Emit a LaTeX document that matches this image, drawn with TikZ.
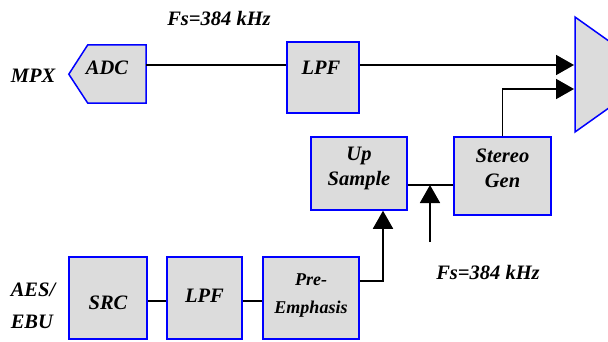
\documentclass[tikz,border=0pt]{standalone}
\usepackage{fontspec}
\setmainfont{Liberation Serif}
\usetikzlibrary{arrows.meta,positioning,calc}
\definecolor{edge}{HTML}{0000FF}
\definecolor{panel}{HTML}{DCDCDC}

\begin{document}
\begin{tikzpicture}[
  x=1pt, y=-1pt,
  font=\fontsize{20.5}{25}\selectfont\bfseries\itshape,
  >={Triangle[length=18pt,width=20pt]},
  block/.style={draw=edge, fill=panel, line width=1.5pt, inner sep=0pt},
  caption/.style={align=center, inner sep=0pt},
  link/.style={line width=1.8pt, draw=black},
  flow/.style={link, ->}
]
  \useasboundingbox (0,0) rectangle (608,342);

  \node[caption] (mpx) at (33,76) {MPX};
  \node[minimum width=58pt, minimum height=58pt, inner sep=0pt] (adc) at (117,74) {};
  \draw[block] (adc.north west) -- (adc.north east) -- (adc.south east) -- (adc.south west) -- ++(-19,-29) -- cycle;
  \node[caption] (adctext) at (107,68) {ADC};
  \node[caption] (fsa) at (219,18) {Fs=384 kHz};
  \node[block, minimum width=72pt, minimum height=71pt,
    label={[caption, xshift=-2pt, yshift=9.5pt]center:LPF}] (lpfa) at (323,77.5) {};

  \begin{scope}
    \clip (0,0) rectangle (608,342);
    \draw[block] (575,17) -- (656,74.5) -- (575,132) -- cycle;
  \end{scope}
  \coordinate (in1) at (574,65);
  \coordinate (in2) at (574,89);

  \draw[link] (adc.east |- in1) -- (lpfa.west |- in1);
  \draw[flow] (lpfa.east |- in1) -- (in1);

  \node[block, minimum width=96pt, minimum height=73pt,
    label={[caption, yshift=5pt]center:Up\\Sample}] (upsample) at (359,173.5) {};
  \node[block, minimum width=97pt, minimum height=78pt,
    label={[caption, yshift=7.5pt]center:Stereo\\Gen}] (stereo) at (502.5,176) {};
  \coordinate (tap) at (430,185);
  \coordinate (clk) at (430,242);
  \draw[link] (upsample.east |- tap) -- (stereo.west |- tap);
  \draw[flow] (clk) -- (tap);
  \draw[flow] (stereo.north) |- (in2);
  \node[caption] (fsb) at (488,272) {Fs=384 kHz};

  \node[caption, align=left, font=\fontsize{20.5}{32}\selectfont\bfseries\itshape] (aes) at (33,306) {AES/\\EBU};
  \node[block, minimum width=78pt, minimum height=82pt,
    label={[caption, yshift=-5pt]center:SRC}] (src) at (108,298) {};
  \node[block, minimum width=75pt, minimum height=82pt,
    label={[caption, yshift=2pt]center:LPF}] (lpfb) at (204.5,298) {};
  \node[block, minimum width=96pt, minimum height=82pt,
    label={[caption, yshift=2pt, font=\fontsize{18}{28}\selectfont\bfseries\itshape]center:Pre-\\Emphasis}] (preemph) at (311,298) {};
  \coordinate (bend) at (383,281);

  \draw[link] ([yshift=-3pt]src.east) -- ([yshift=-3pt]lpfb.west);
  \draw[link] ([yshift=-3pt]lpfb.east) -- ([yshift=-3pt]preemph.west);
  \draw[flow] (preemph.east |- bend) -| (upsample.south -| bend);
\end{tikzpicture}
\end{document}
